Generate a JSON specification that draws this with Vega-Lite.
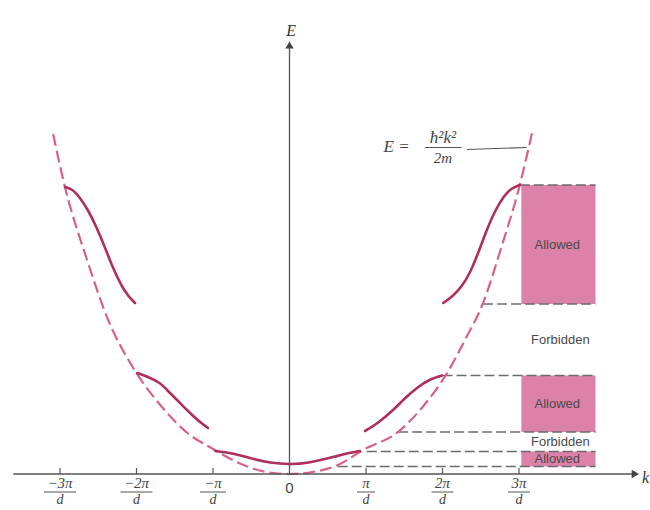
{
  "$schema": "https://vega.github.io/schema/vega-lite/v6.json",
  "width": 650,
  "height": 510,
  "autosize": {"type": "none"},
  "padding": 0,
  "background": "white",
  "config": {"view": {"stroke": null}},
  "datasets": {
    "bands": [
      {"band": 1, "lo": 7.5, "hi": 22.5},
      {"band": 2, "lo": 42, "hi": 98.5},
      {"band": 3, "lo": 170, "hi": 289}
    ],
    "gaps": [
      {"lo": 22.5, "hi": 42},
      {"lo": 98.5, "hi": 170}
    ],
    "edges": [
      {"e": 7.5, "k": 0.63},
      {"e": 22.5, "k": 1.01},
      {"e": 42, "k": 1.42},
      {"e": 98.5, "k": 2.0},
      {"e": 170, "k": 2.53},
      {"e": 289, "k": 3.01}
    ],
    "free": [
      {"k": -3.09, "e": 340}, {"k": -2.935, "e": 287}, {"k": -2.65, "e": 215},
      {"k": -2.37, "e": 154}, {"k": -2.05, "e": 107}, {"k": -1.7, "e": 70},
      {"k": -1.35, "e": 42}, {"k": -1.0, "e": 25}, {"k": -0.6, "e": 9},
      {"k": -0.3, "e": 2}, {"k": 0, "e": 0}, {"k": 0.3, "e": 2},
      {"k": 0.634, "e": 9}, {"k": 0.96, "e": 24}, {"k": 1.418, "e": 42},
      {"k": 1.75, "e": 68}, {"k": 2.06, "e": 101}, {"k": 2.3, "e": 135},
      {"k": 2.53, "e": 171}, {"k": 2.77, "e": 227}, {"k": 3.01, "e": 289},
      {"k": 3.17, "e": 341}
    ],
    "bandCurves": [
      {"seg": "1", "k": -0.97, "e": 23}, {"seg": "1", "k": -0.75, "e": 20.5},
      {"seg": "1", "k": -0.52, "e": 16}, {"seg": "1", "k": -0.25, "e": 11.5},
      {"seg": "1", "k": 0, "e": 10}, {"seg": "1", "k": 0.25, "e": 11.5},
      {"seg": "1", "k": 0.57, "e": 17}, {"seg": "1", "k": 0.75, "e": 20.5},
      {"seg": "1", "k": 0.92, "e": 23},
      {"seg": "2L", "k": -1.99, "e": 101}, {"seg": "2L", "k": -1.85, "e": 97},
      {"seg": "2L", "k": -1.7, "e": 91}, {"seg": "2L", "k": -1.6, "e": 84},
      {"seg": "2L", "k": -1.47, "e": 74}, {"seg": "2L", "k": -1.34, "e": 64},
      {"seg": "2L", "k": -1.2, "e": 54}, {"seg": "2L", "k": -1.065, "e": 46},
      {"seg": "2R", "k": 0.987, "e": 43}, {"seg": "2R", "k": 1.15, "e": 51},
      {"seg": "2R", "k": 1.353, "e": 64}, {"seg": "2R", "k": 1.5, "e": 75},
      {"seg": "2R", "k": 1.667, "e": 86}, {"seg": "2R", "k": 1.83, "e": 94},
      {"seg": "2R", "k": 1.993, "e": 98.5},
      {"seg": "3L", "k": -2.935, "e": 287}, {"seg": "3L", "k": -2.84, "e": 284},
      {"seg": "3L", "k": -2.74, "e": 276}, {"seg": "3L", "k": -2.63, "e": 263},
      {"seg": "3L", "k": -2.52, "e": 246}, {"seg": "3L", "k": -2.41, "e": 226},
      {"seg": "3L", "k": -2.31, "e": 207}, {"seg": "3L", "k": -2.16, "e": 184},
      {"seg": "3L", "k": -2.02, "e": 171},
      {"seg": "3R", "k": 2.01, "e": 171}, {"seg": "3R", "k": 2.13, "e": 178},
      {"seg": "3R", "k": 2.25, "e": 188}, {"seg": "3R", "k": 2.36, "e": 202},
      {"seg": "3R", "k": 2.47, "e": 222}, {"seg": "3R", "k": 2.58, "e": 244},
      {"seg": "3R", "k": 2.69, "e": 263}, {"seg": "3R", "k": 2.8, "e": 277},
      {"seg": "3R", "k": 2.9, "e": 285}, {"seg": "3R", "k": 3.01, "e": 289}
    ],
    "ticks": [
      {"n": -3, "num": "−3π"}, {"n": -2, "num": "−2π"}, {"n": -1, "num": "−π"},
      {"n": 1, "num": "π"}, {"n": 2, "num": "2π"}, {"n": 3, "num": "3π"}
    ],
    "one": [{"id": 0}]
  },
  "layer": [
    {
      "data": {"name": "bands"},
      "mark": {"type": "rect", "color": "#dc82a8"},
      "encoding": {
        "x": {"datum": 3.03, "type": "quantitative", "scale": {"domain": [-3.784, 4.712], "nice": false, "zero": false}, "axis": null},
        "x2": {"datum": 4.0},
        "y": {"field": "lo", "type": "quantitative", "scale": {"domain": [-36, 474], "nice": false, "zero": false}, "axis": null},
        "y2": {"field": "hi"}
      }
    },
    {
      "data": {"name": "edges"},
      "mark": {"type": "rule", "stroke": "#6b6b6b", "strokeWidth": 1.6, "strokeDash": [10, 4]},
      "encoding": {
        "x": {"field": "k", "type": "quantitative", "scale": {"domain": [-3.784, 4.712], "nice": false, "zero": false}, "axis": null},
        "x2": {"datum": 4.0},
        "y": {"field": "e", "type": "quantitative", "scale": {"domain": [-36, 474], "nice": false, "zero": false}, "axis": null}
      }
    },
    {
      "data": {"name": "free"},
      "mark": {"type": "line", "stroke": "#d9608c", "strokeWidth": 2.2, "strokeDash": [12, 5], "interpolate": "monotone"},
      "encoding": {
        "x": {"field": "k", "type": "quantitative", "scale": {"domain": [-3.784, 4.712], "nice": false, "zero": false}, "axis": null},
        "y": {"field": "e", "type": "quantitative", "scale": {"domain": [-36, 474], "nice": false, "zero": false}, "axis": null}
      }
    },
    {
      "data": {"name": "bandCurves"},
      "mark": {"type": "line", "stroke": "#b02f5a", "strokeWidth": 2.6, "interpolate": "natural", "strokeCap": "round"},
      "encoding": {
        "x": {"field": "k", "type": "quantitative", "scale": {"domain": [-3.784, 4.712], "nice": false, "zero": false}, "axis": null},
        "y": {"field": "e", "type": "quantitative", "scale": {"domain": [-36, 474], "nice": false, "zero": false}, "axis": null},
        "detail": {"field": "seg", "type": "nominal"}
      }
    },
    {
      "data": {"name": "one"},
      "mark": {"type": "rule", "stroke": "#555555", "strokeWidth": 1.3},
      "encoding": {
        "x": {"datum": -3.61, "type": "quantitative", "scale": {"domain": [-3.784, 4.712], "nice": false, "zero": false}, "axis": null},
        "x2": {"datum": 4.5},
        "y": {"datum": 0, "type": "quantitative", "scale": {"domain": [-36, 474], "nice": false, "zero": false}, "axis": null}
      }
    },
    {
      "data": {"name": "one"},
      "mark": {"type": "rule", "stroke": "#555555", "strokeWidth": 1.3},
      "encoding": {
        "x": {"datum": 0, "type": "quantitative", "scale": {"domain": [-3.784, 4.712], "nice": false, "zero": false}, "axis": null},
        "y": {"datum": 0, "type": "quantitative", "scale": {"domain": [-36, 474], "nice": false, "zero": false}, "axis": null},
        "y2": {"datum": 428}
      }
    },
    {
      "data": {"name": "one"},
      "mark": {"type": "point", "shape": "triangle-right", "filled": true, "color": "#444444", "size": 70, "opacity": 1},
      "encoding": {
        "x": {"datum": 4.52, "type": "quantitative", "scale": {"domain": [-3.784, 4.712], "nice": false, "zero": false}, "axis": null},
        "y": {"datum": 0, "type": "quantitative", "scale": {"domain": [-36, 474], "nice": false, "zero": false}, "axis": null}
      }
    },
    {
      "data": {"name": "one"},
      "mark": {"type": "point", "shape": "triangle-up", "filled": true, "color": "#444444", "size": 70, "opacity": 1},
      "encoding": {
        "x": {"datum": 0, "type": "quantitative", "scale": {"domain": [-3.784, 4.712], "nice": false, "zero": false}, "axis": null},
        "y": {"datum": 429, "type": "quantitative", "scale": {"domain": [-36, 474], "nice": false, "zero": false}, "axis": null}
      }
    },
    {
      "data": {"name": "one"},
      "mark": {"type": "text", "text": "E", "font": "Liberation Serif", "fontStyle": "italic", "fontSize": 16, "color": "#333333", "baseline": "middle", "align": "center"},
      "encoding": {
        "x": {"datum": 0.02, "type": "quantitative", "scale": {"domain": [-3.784, 4.712], "nice": false, "zero": false}, "axis": null},
        "y": {"datum": 443, "type": "quantitative", "scale": {"domain": [-36, 474], "nice": false, "zero": false}, "axis": null}
      }
    },
    {
      "data": {"name": "one"},
      "mark": {"type": "text", "text": "k", "font": "Liberation Serif", "fontStyle": "italic", "fontSize": 16, "color": "#333333", "baseline": "middle", "align": "right", "dx": -1},
      "encoding": {
        "x": {"datum": 4.712, "type": "quantitative", "scale": {"domain": [-3.784, 4.712], "nice": false, "zero": false}, "axis": null},
        "y": {"datum": -4, "type": "quantitative", "scale": {"domain": [-36, 474], "nice": false, "zero": false}, "axis": null}
      }
    },
    {
      "data": {"name": "ticks"},
      "mark": {"type": "rule", "stroke": "#555555", "strokeWidth": 1.2},
      "encoding": {
        "x": {"field": "n", "type": "quantitative", "scale": {"domain": [-3.784, 4.712], "nice": false, "zero": false}, "axis": null},
        "y": {"datum": 0, "type": "quantitative", "scale": {"domain": [-36, 474], "nice": false, "zero": false}, "axis": null},
        "y2": {"datum": 6}
      }
    },
    {
      "data": {"name": "ticks"},
      "mark": {"type": "text", "font": "Liberation Serif", "fontStyle": "italic", "fontSize": 15, "color": "#444444", "baseline": "middle", "align": "center"},
      "encoding": {
        "x": {"field": "n", "type": "quantitative", "scale": {"domain": [-3.784, 4.712], "nice": false, "zero": false}, "axis": null},
        "y": {"datum": -9, "type": "quantitative", "scale": {"domain": [-36, 474], "nice": false, "zero": false}, "axis": null},
        "text": {"field": "num"}
      }
    },
    {
      "data": {"name": "ticks"},
      "mark": {"type": "text", "text": "d", "font": "Liberation Serif", "fontStyle": "italic", "fontSize": 14, "color": "#444444", "baseline": "middle", "align": "center"},
      "encoding": {
        "x": {"field": "n", "type": "quantitative", "scale": {"domain": [-3.784, 4.712], "nice": false, "zero": false}, "axis": null},
        "y": {"datum": -26, "type": "quantitative", "scale": {"domain": [-36, 474], "nice": false, "zero": false}, "axis": null}
      }
    },
    {
      "data": {"name": "ticks"},
      "transform": [{"filter": "datum.n <= -2"}],
      "mark": {"type": "rule", "stroke": "#555555", "strokeWidth": 1, "xOffset": -16, "x2Offset": 16},
      "encoding": {
        "x": {"field": "n", "type": "quantitative", "scale": {"domain": [-3.784, 4.712], "nice": false, "zero": false}, "axis": null},
        "x2": {"field": "n"},
        "y": {"datum": -18, "type": "quantitative", "scale": {"domain": [-36, 474], "nice": false, "zero": false}, "axis": null}
      }
    },
    {
      "data": {"name": "ticks"},
      "transform": [{"filter": "datum.n == -1"}],
      "mark": {"type": "rule", "stroke": "#555555", "strokeWidth": 1, "xOffset": -13, "x2Offset": 13},
      "encoding": {
        "x": {"field": "n", "type": "quantitative", "scale": {"domain": [-3.784, 4.712], "nice": false, "zero": false}, "axis": null},
        "x2": {"field": "n"},
        "y": {"datum": -18, "type": "quantitative", "scale": {"domain": [-36, 474], "nice": false, "zero": false}, "axis": null}
      }
    },
    {
      "data": {"name": "ticks"},
      "transform": [{"filter": "datum.n == 1"}],
      "mark": {"type": "rule", "stroke": "#555555", "strokeWidth": 1, "xOffset": -9, "x2Offset": 9},
      "encoding": {
        "x": {"field": "n", "type": "quantitative", "scale": {"domain": [-3.784, 4.712], "nice": false, "zero": false}, "axis": null},
        "x2": {"field": "n"},
        "y": {"datum": -18, "type": "quantitative", "scale": {"domain": [-36, 474], "nice": false, "zero": false}, "axis": null}
      }
    },
    {
      "data": {"name": "ticks"},
      "transform": [{"filter": "datum.n >= 2"}],
      "mark": {"type": "rule", "stroke": "#555555", "strokeWidth": 1, "xOffset": -11, "x2Offset": 11},
      "encoding": {
        "x": {"field": "n", "type": "quantitative", "scale": {"domain": [-3.784, 4.712], "nice": false, "zero": false}, "axis": null},
        "x2": {"field": "n"},
        "y": {"datum": -18, "type": "quantitative", "scale": {"domain": [-36, 474], "nice": false, "zero": false}, "axis": null}
      }
    },
    {
      "data": {"name": "one"},
      "mark": {"type": "text", "text": "0", "font": "Liberation Sans", "fontSize": 15, "color": "#444444", "baseline": "middle", "align": "center"},
      "encoding": {
        "x": {"datum": 0, "type": "quantitative", "scale": {"domain": [-3.784, 4.712], "nice": false, "zero": false}, "axis": null},
        "y": {"datum": -14, "type": "quantitative", "scale": {"domain": [-36, 474], "nice": false, "zero": false}, "axis": null}
      }
    },
    {
      "data": {"name": "bands"},
      "transform": [{"calculate": "(datum.lo + datum.hi) / 2", "as": "mid"}],
      "mark": {"type": "text", "text": "Allowed", "font": "Liberation Sans", "fontSize": 13, "color": "#4a4a4a", "baseline": "middle", "align": "center"},
      "encoding": {
        "x": {"datum": 3.5, "type": "quantitative", "scale": {"domain": [-3.784, 4.712], "nice": false, "zero": false}, "axis": null},
        "y": {"field": "mid", "type": "quantitative", "scale": {"domain": [-36, 474], "nice": false, "zero": false}, "axis": null}
      }
    },
    {
      "data": {"name": "gaps"},
      "transform": [{"calculate": "(datum.lo + datum.hi) / 2", "as": "mid"}],
      "mark": {"type": "text", "text": "Forbidden", "font": "Liberation Sans", "fontSize": 13, "color": "#4a4a4a", "baseline": "middle", "align": "center"},
      "encoding": {
        "x": {"datum": 3.54, "type": "quantitative", "scale": {"domain": [-3.784, 4.712], "nice": false, "zero": false}, "axis": null},
        "y": {"field": "mid", "type": "quantitative", "scale": {"domain": [-36, 474], "nice": false, "zero": false}, "axis": null}
      }
    },
    {
      "data": {"name": "one"},
      "mark": {"type": "text", "text": "E =", "font": "Liberation Serif", "fontStyle": "italic", "fontSize": 17, "color": "#444444", "baseline": "middle", "align": "center"},
      "encoding": {
        "x": {"datum": 1.4, "type": "quantitative", "scale": {"domain": [-3.784, 4.712], "nice": false, "zero": false}, "axis": null},
        "y": {"datum": 327, "type": "quantitative", "scale": {"domain": [-36, 474], "nice": false, "zero": false}, "axis": null}
      }
    },
    {
      "data": {"name": "one"},
      "mark": {"type": "text", "text": "ħ²k²", "font": "Liberation Serif", "fontStyle": "italic", "fontSize": 17, "color": "#444444", "baseline": "middle", "align": "center"},
      "encoding": {
        "x": {"datum": 2.006, "type": "quantitative", "scale": {"domain": [-3.784, 4.712], "nice": false, "zero": false}, "axis": null},
        "y": {"datum": 336, "type": "quantitative", "scale": {"domain": [-36, 474], "nice": false, "zero": false}, "axis": null}
      }
    },
    {
      "data": {"name": "one"},
      "mark": {"type": "rule", "stroke": "#555555", "strokeWidth": 1},
      "encoding": {
        "x": {"datum": 1.77, "type": "quantitative", "scale": {"domain": [-3.784, 4.712], "nice": false, "zero": false}, "axis": null},
        "x2": {"datum": 2.25},
        "y": {"datum": 326.5, "type": "quantitative", "scale": {"domain": [-36, 474], "nice": false, "zero": false}, "axis": null}
      }
    },
    {
      "data": {"name": "one"},
      "mark": {"type": "text", "text": "2m", "font": "Liberation Serif", "fontStyle": "italic", "fontSize": 15, "color": "#444444", "baseline": "middle", "align": "center"},
      "encoding": {
        "x": {"datum": 2.006, "type": "quantitative", "scale": {"domain": [-3.784, 4.712], "nice": false, "zero": false}, "axis": null},
        "y": {"datum": 316, "type": "quantitative", "scale": {"domain": [-36, 474], "nice": false, "zero": false}, "axis": null}
      }
    },
    {
      "data": {"name": "one"},
      "mark": {"type": "rule", "stroke": "#555555", "strokeWidth": 1.1},
      "encoding": {
        "x": {"datum": 2.32, "type": "quantitative", "scale": {"domain": [-3.784, 4.712], "nice": false, "zero": false}, "axis": null},
        "x2": {"datum": 3.1},
        "y": {"datum": 324.5, "type": "quantitative", "scale": {"domain": [-36, 474], "nice": false, "zero": false}, "axis": null},
        "y2": {"datum": 326.5}
      }
    }
  ]
}
